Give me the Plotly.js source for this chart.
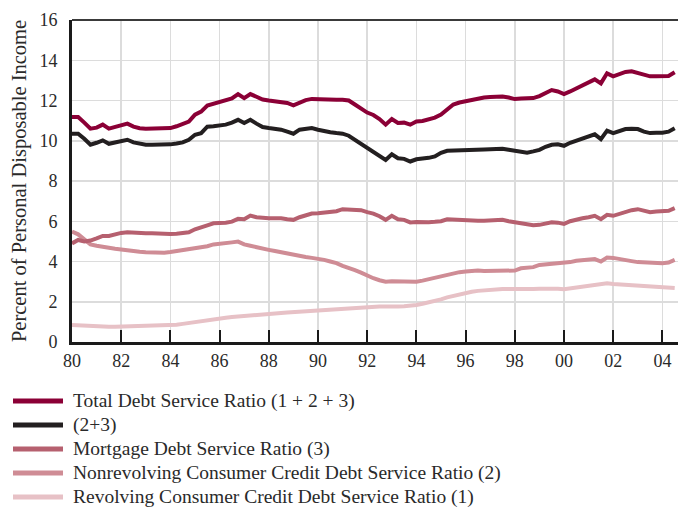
<!DOCTYPE html>
<html>
<head>
<meta charset="utf-8">
<script src="https://cdn.plot.ly/plotly-3.0.1.min.js"></script>
<style>
html,body{margin:0;padding:0;background:#fff;}
#chart{width:678px;height:510px;}
</style>
</head>
<body>
<div id="chart"></div>
<script>
// Quarterly data, 1980 Q1 to 2004 Q3
var startYear = 1980;

var totalDSR = [
  11.18, 11.18, 10.9, 10.6,
  10.65, 10.8, 10.6, 10.7,
  10.75, 10.85, 10.7, 10.62,
  10.6, 10.6, 10.6, 10.6,
  10.63, 10.72, 10.82, 10.95,
  11.3, 11.45, 11.75, 11.85,
  11.95, 12.0, 12.1, 12.32,
  12.12, 12.32, 12.2, 12.05,
  12.0, 11.97, 11.93, 11.88,
  11.76, 11.9, 12.02, 12.08,
  12.06, 12.04, 12.04, 12.04,
  12.04, 12.0, 11.8, 11.6,
  11.4, 11.28, 11.08, 10.8,
  11.08, 10.88, 10.9, 10.8,
  10.96, 10.98, 11.05, 11.15,
  11.3, 11.55, 11.8, 11.9,
  11.96, 12.05, 12.12, 12.15,
  12.17, 12.2, 12.2, 12.15,
  12.07, 12.1, 12.1, 12.12,
  12.22, 12.35, 12.52, 12.45,
  12.32, 12.45, 12.6, 12.8,
  12.9, 13.05, 12.85, 13.35,
  13.2, 13.3, 13.42, 13.45,
  13.35, 13.25, 13.2, 13.2,
  13.2, 13.22, 13.4
];

var consumerPlusMortgage = [
  10.35, 10.35, 10.1, 9.8,
  9.9, 10.02, 9.85, 9.92,
  9.95, 10.05, 9.92, 9.85,
  9.8, 9.8, 9.8, 9.8,
  9.82, 9.86, 9.92, 10.05,
  10.3, 10.38, 10.7, 10.72,
  10.75, 10.8, 10.9, 11.04,
  10.88, 11.04, 10.85, 10.68,
  10.63, 10.6, 10.55, 10.45,
  10.35, 10.55, 10.6, 10.63,
  10.55, 10.47, 10.42, 10.38,
  10.35, 10.25, 10.05, 9.85,
  9.65, 9.5, 9.3, 9.05,
  9.33, 9.13, 9.1, 8.97,
  9.08, 9.1, 9.15, 9.22,
  9.4, 9.5, 9.52, 9.52,
  9.52, 9.55, 9.55, 9.57,
  9.58, 9.58, 9.6, 9.55,
  9.5, 9.48, 9.4, 9.47,
  9.55, 9.7, 9.8, 9.82,
  9.75, 9.9, 10.0, 10.15,
  10.25, 10.32, 10.08, 10.5,
  10.38, 10.5, 10.58, 10.6,
  10.58, 10.45, 10.38, 10.4,
  10.4, 10.45, 10.62
];

var mortgageDSR = [
  4.9, 5.07, 5.0, 5.04,
  5.15, 5.27, 5.27, 5.35,
  5.42, 5.45, 5.42, 5.4,
  5.4, 5.4, 5.38, 5.38,
  5.37, 5.38, 5.4, 5.45,
  5.6, 5.68, 5.8, 5.9,
  5.9, 5.93, 5.98, 6.12,
  6.1, 6.28, 6.2, 6.15,
  6.15, 6.15, 6.15, 6.1,
  6.07, 6.2, 6.3, 6.38,
  6.4, 6.42, 6.45, 6.5,
  6.6, 6.6, 6.6, 6.55,
  6.45, 6.38, 6.25, 6.07,
  6.27, 6.1, 6.07, 5.94,
  5.96, 5.94, 5.95, 5.97,
  6.0, 6.1, 6.08, 6.03,
  6.02, 6.02, 6.02, 6.03,
  6.05, 6.07, 6.07, 6.0,
  5.94, 5.88, 5.82, 5.8,
  5.82, 5.88, 5.95, 5.93,
  5.87, 6.0, 6.1, 6.15,
  6.2, 6.27, 6.1, 6.32,
  6.27, 6.38, 6.48, 6.55,
  6.6, 6.55, 6.45, 6.48,
  6.5, 6.52, 6.65
];

var nonrevolvingDSR = [
  5.49, 5.35, 5.1, 4.85,
  4.78, 4.72, 4.68, 4.63,
  4.6, 4.55, 4.52, 4.48,
  4.46, 4.45, 4.44, 4.44,
  4.47, 4.52, 4.58, 4.6,
  4.63, 4.7, 4.76, 4.85,
  4.87, 4.9, 4.95, 4.99,
  4.85, 4.78, 4.7, 4.65,
  4.58, 4.52, 4.45, 4.38,
  4.33, 4.26, 4.22, 4.18,
  4.14, 4.08, 4.0, 3.92,
  3.78, 3.7, 3.57, 3.45,
  3.3, 3.17, 3.07, 3.0,
  3.02, 3.02, 3.03, 3.0,
  3.0, 3.05, 3.12, 3.18,
  3.26, 3.33, 3.42, 3.47,
  3.5, 3.53, 3.55, 3.53,
  3.53, 3.55, 3.55, 3.5,
  3.55, 3.66, 3.7, 3.72,
  3.83, 3.85, 3.88, 3.9,
  3.91, 3.97, 4.04, 4.07,
  4.1, 4.12, 4.0, 4.2,
  4.18, 4.11, 4.08, 4.02,
  3.97, 3.95, 3.93, 3.92,
  3.91, 3.95, 4.08
];

var revolvingDSR = [
  0.85, 0.83, 0.8, 0.78,
  0.77, 0.76, 0.76, 0.76,
  0.77, 0.77, 0.78, 0.78,
  0.79, 0.79, 0.8, 0.8,
  0.82, 0.86, 0.9, 0.95,
  1.0, 1.04, 1.1, 1.15,
  1.18, 1.21, 1.24, 1.27,
  1.3, 1.33, 1.36, 1.38,
  1.4, 1.42, 1.44, 1.46,
  1.48, 1.5, 1.52, 1.55,
  1.58, 1.6, 1.62, 1.64,
  1.66, 1.68, 1.71, 1.74,
  1.76, 1.77, 1.77, 1.77,
  1.74, 1.76, 1.78, 1.8,
  1.84, 1.9, 1.96, 2.02,
  2.12, 2.22, 2.3, 2.38,
  2.45, 2.5, 2.54, 2.57,
  2.6, 2.62, 2.63, 2.63,
  2.62, 2.62, 2.62, 2.63,
  2.64, 2.66, 2.67, 2.65,
  2.62, 2.66, 2.7, 2.76,
  2.82, 2.86, 2.88, 2.92,
  2.88, 2.86, 2.84, 2.82,
  2.8, 2.78, 2.76, 2.74,
  2.72, 2.7, 2.68
];

var seriesNames = [
  "Total Debt Service Ratio (1 + 2 + 3)",
  "(2+3)",
  "Mortgage Debt Service Ratio (3)",
  "Nonrevolving Consumer Credit Debt Service Ratio (2)",
  "Revolving Consumer Credit Debt Service Ratio (1)"
];
var seriesColors = ["#8b0036", "#231f20", "#b6606f", "#cf8c95", "#e7c1c6"];

var xTickVals = [1980, 1982, 1984, 1986, 1988, 1990, 1992, 1994, 1996, 1998, 2000, 2002, 2004];
var xTickText = ["80", "82", "84", "86", "88", "90", "92", "94", "96", "98", "00", "02", "04"];
var yTickVals = [0, 2, 4, 6, 8, 10, 12, 14, 16];

var quarters = totalDSR.map(function (_, i) { return startYear + i / 4; });

var allSeries = [totalDSR, consumerPlusMortgage, mortgageDSR, nonrevolvingDSR, revolvingDSR];
var drawOrder = [4, 3, 2, 1, 0];
var traces = drawOrder.map(function (k) {
  return {
    x: quarters, y: allSeries[k], type: "scatter", mode: "lines",
    name: seriesNames[k],
    line: {color: seriesColors[k], width: 4},
    showlegend: false, hoverinfo: "skip"
  };
});

var FONT = "Liberation Serif, Times New Roman, serif";
var plotL = 72, plotR = 678, plotT = 20, plotB = 342;
var pw = plotR - plotL, ph = plotB - plotT;

var shapes = [
  {type: "line", xref: "paper", yref: "paper", x0: 0, x1: 1, y0: 1, y1: 1,
   line: {color: "#3a3a3a", width: 2}, layer: "above"}
];
var annotations = [];
seriesNames.forEach(function (name, i) {
  var py = 401 + 24 * i;
  var yp = (plotB - py) / ph;
  shapes.push({type: "line", xref: "paper", yref: "paper",
    x0: (13 - plotL) / pw, x1: (63 - plotL) / pw, y0: yp, y1: yp,
    line: {color: seriesColors[i], width: 5}});
  annotations.push({xref: "paper", yref: "paper", x: (71 - plotL) / pw, y: yp,
    xanchor: "left", yanchor: "middle", showarrow: false, text: name,
    font: {family: FONT, size: 19.5, color: "#2a2a2a"}});
});

var layout = {
  width: 678, height: 510,
  margin: {l: plotL, r: 678 - plotR, t: plotT, b: 510 - plotB, pad: 0},
  paper_bgcolor: "#ffffff", plot_bgcolor: "#ffffff",
  font: {family: FONT, size: 18, color: "#2a2a2a"},
  showlegend: false,
  xaxis: {
    range: [1980, 1980 + pw / 24.6],
    tickvals: xTickVals, ticktext: xTickText,
    ticks: "inside", ticklen: 12, tickwidth: 2, tickcolor: "#1a1a1a",
    showgrid: true, gridcolor: "#dcdcdc", gridwidth: 1.5,
    showline: true, linecolor: "#1a1a1a", linewidth: 3,
    zeroline: false, tickfont: {family: FONT, size: 18, color: "#2a2a2a"},
    fixedrange: true
  },
  yaxis: {
    range: [0, 16],
    tickvals: yTickVals,
    ticks: "outside", ticklen: 8, tickcolor: "rgba(0,0,0,0)",
    showgrid: true, gridcolor: "#dcdcdc", gridwidth: 1.5,
    showline: true, linecolor: "#1a1a1a", linewidth: 3,
    zeroline: false, tickfont: {family: FONT, size: 18, color: "#2a2a2a"},
    title: {text: "Percent of Personal Disposable Income", standoff: 8,
            font: {family: FONT, size: 20.5, color: "#2a2a2a"}},
    fixedrange: true
  },
  shapes: shapes,
  annotations: annotations
};

Plotly.newPlot("chart", traces, layout, {displayModeBar: false, staticPlot: true});
</script>
</body>
</html>
